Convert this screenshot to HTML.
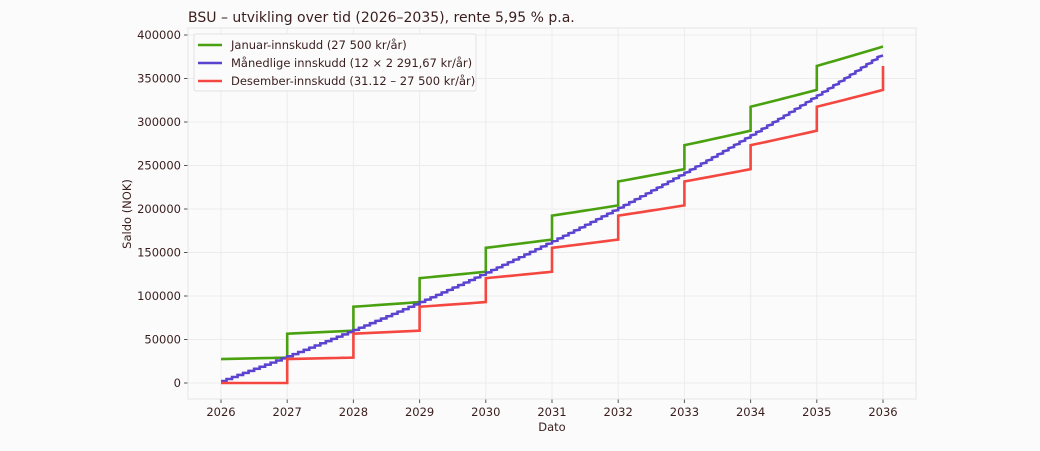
<!DOCTYPE html>
<html><head><meta charset="utf-8"><style>
body{margin:0;background:#fbfbfb}
text{font-family:"DejaVu Sans","Liberation Sans",sans-serif;fill:#3a1e1e}
</style></head><body>
<svg id="s" width="1040" height="446" xmlns="http://www.w3.org/2000/svg">
<rect width="1040" height="446" fill="#fbfbfb"/>
<text x="188" y="22" font-size="14">BSU – utvikling over tid (2026–2035), rente 5,95 % p.a.</text>
<g id="grid"></g>
<rect x="188" y="28" width="728" height="371" fill="none" stroke="#e6e6e6"/>
<g id="series" fill="none" stroke-width="2.6"></g>
<text x="552" y="431" font-size="11.5" text-anchor="middle">Dato</text>
<text transform="translate(131,214) rotate(-90)" font-size="11.5" text-anchor="middle">Saldo (NOK)</text>
<rect x="194" y="34" width="282" height="57" fill="#fbfbfb" stroke="#e0e0e0" rx="2"/>
<line x1="198" y1="45" x2="222" y2="45" stroke="#4aa10f" stroke-width="2.6"/>
<line x1="198" y1="63" x2="222" y2="63" stroke="#5b43cf" stroke-width="2.6"/>
<line x1="198" y1="81" x2="222" y2="81" stroke="#f44740" stroke-width="2.6"/>
<text x="231" y="49" font-size="11.5">Januar-innskudd (27 500 kr/år)</text>
<text x="231" y="67" font-size="11.5">Månedlige innskudd (12 × 2 291,67 kr/år)</text>
<text x="231" y="85" font-size="11.5">Desember-innskudd (31.12 – 27 500 kr/år)</text>
</svg>
<script>
const X=y=>221+(y-2026)*66.2, Y=v=>383-v*0.000870;
let g='';
for(let y=2026;y<=2036;y++){g+=`<line x1="${X(y)}" y1="28" x2="${X(y)}" y2="399" stroke="#ececec"/><line x1="${X(y)}" y1="399" x2="${X(y)}" y2="403" stroke="#555"/><text x="${X(y)}" y="416" font-size="11.5" text-anchor="middle">${y}</text>`;}
for(let v=0;v<=400000;v+=50000){g+=`<line x1="188" y1="${Y(v)}" x2="916" y2="${Y(v)}" stroke="#ececec"/><line x1="184" y1="${Y(v)}" x2="188" y2="${Y(v)}" stroke="#555"/><text x="181" y="${Y(v)+4}" font-size="11.5" text-anchor="end">${v}</text>`;}
document.getElementById('grid').innerHTML=g;
const q=1+0.0595/12;
const S=p=>p.map(a=>a[0].toFixed(2)+','+a[1].toFixed(2)).join(' ');
// January
let p=[],B=0;
for(let y=2026;y<2036;y++){B+=27500;p.push([X(y),Y(B)]);for(let k=1;k<=12;k++){B*=q;p.push([X(y+k/12),Y(B)]);}}
let jan=S(p);
// December
p=[[X(2026),Y(0)]];B=0;
for(let y=2026;y<2036;y++){for(let k=1;k<=12;k++){B*=q;p.push([X(y+k/12),Y(B)]);}B+=27500;p.push([X(y+1),Y(B)]);}
let dec=S(p);
// Monthly
p=[];B=0;let m=2291.67;
for(let i=0;i<120;i++){B=B+m;let t=2026+i/12;p.push([X(t),Y(B)]);B*=q;p.push([X(t+1/12),Y(B)]);}
let mon=S(p);
document.getElementById('series').innerHTML=`<polyline points="${jan}" stroke="#4aa10f"/><polyline points="${mon}" stroke="#5b43cf"/><polyline points="${dec}" stroke="#f44740"/>`;
</script>
</body></html>
